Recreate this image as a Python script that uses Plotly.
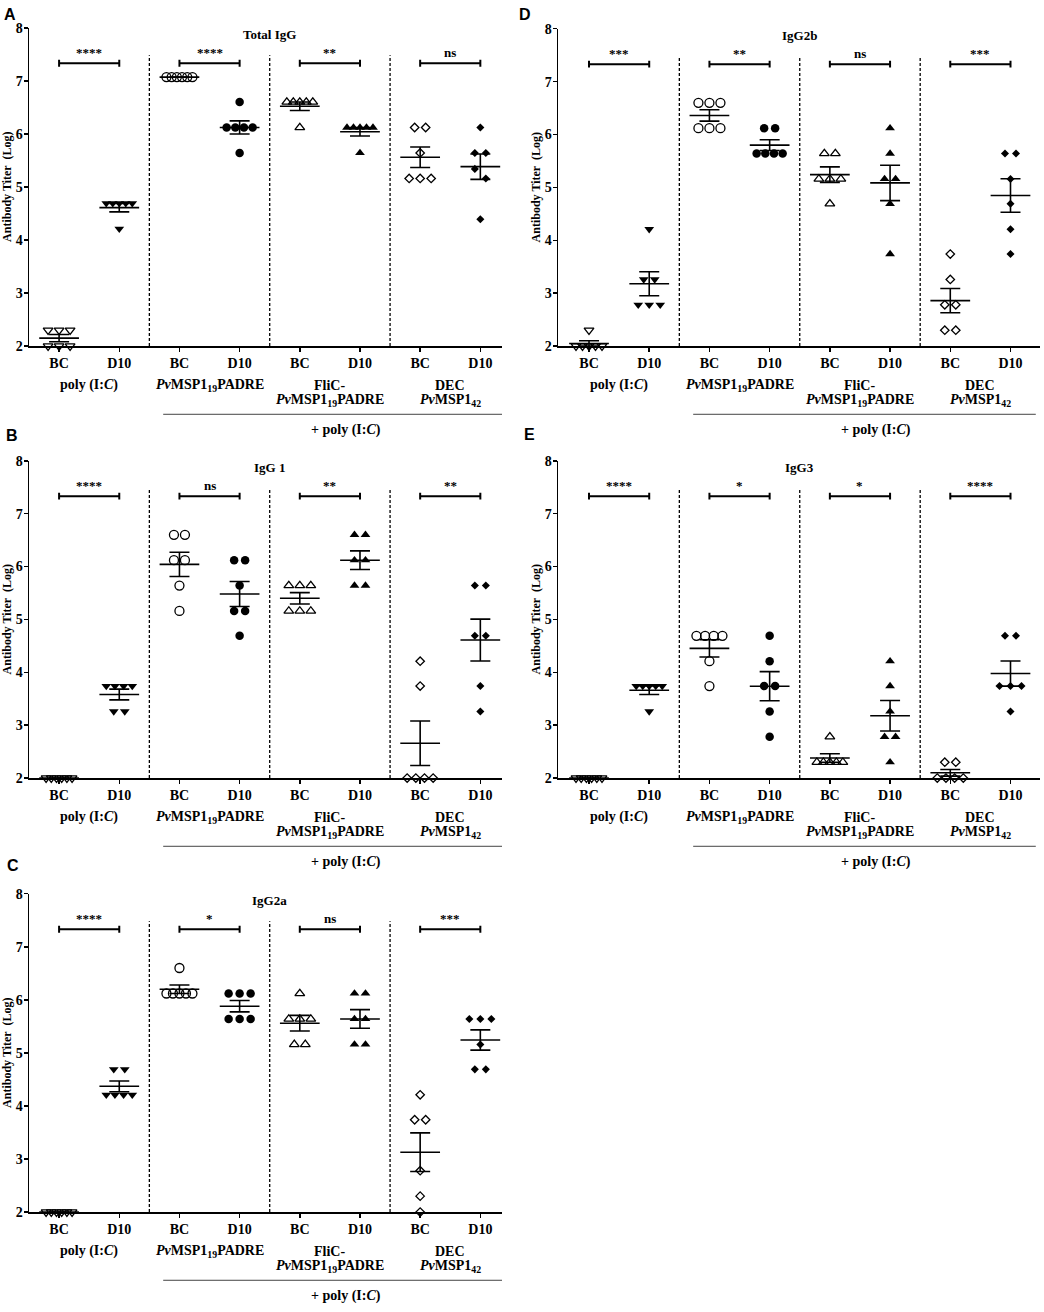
import numpy as np
import plotly.graph_objects as go

# ---------------- data ----------------
categories = ["BC", "D10", "BC", "D10", "BC", "D10", "BC", "D10"]
group_line1 = ["poly (I:<i>C</i>)", "<i>Pv</i>MSP1<sub>19</sub>PADRE", "FliC-", "DEC"]
group_line2 = ["", "", "<i>Pv</i>MSP1<sub>19</sub>PADRE", "<i>Pv</i>MSP1<sub>42</sub>"]
adjuvant_label = "+ poly (I:<i>C</i>)"
y_title = "Antibody Titer  (Log)"
y_ticks = [2, 3, 4, 5, 6, 7, 8]

panel_letters = ["A", "B", "C", "D", "E"]
panel_titles = ["Total IgG", "IgG 1", "IgG2a", "IgG2b", "IgG3"]

total_igg = [
    [2.30, 2.30, 2.30, 2.00, 2.00, 2.00],
    [4.69, 4.69, 4.69, 4.69, 4.69, 4.21],
    [7.07, 7.07, 7.07, 7.07, 7.07, 7.07],
    [6.60, 6.12, 6.12, 6.12, 6.12, 5.64],
    [6.60, 6.60, 6.60, 6.60, 6.60, 6.12],
    [6.12, 6.12, 6.12, 6.12, 6.12, 5.64],
    [6.12, 6.12, 5.64, 5.16, 5.16, 5.16],
    [6.12, 5.64, 5.64, 5.34, 5.16, 4.39],
]
igg1 = [
    [2.00, 2.00, 2.00, 2.00, 2.00, 2.00],
    [3.74, 3.74, 3.74, 3.74, 3.26, 3.26],
    [6.60, 6.60, 6.12, 6.12, 5.64, 5.16],
    [6.12, 6.12, 5.64, 5.16, 5.16, 4.69],
    [5.64, 5.64, 5.64, 5.16, 5.16, 5.16],
    [6.60, 6.60, 6.12, 6.12, 5.64, 5.64],
    [4.21, 3.74, 2.00, 2.00, 2.00, 2.00],
    [5.64, 5.64, 4.69, 4.69, 3.74, 3.26],
]
igg2a = [
    [2.00, 2.00, 2.00, 2.00, 2.00, 2.00],
    [4.69, 4.69, 4.21, 4.21, 4.21, 4.21],
    [6.60, 6.12, 6.12, 6.12, 6.12, 6.12],
    [6.12, 6.12, 6.12, 5.64, 5.64, 5.64],
    [6.12, 5.64, 5.64, 5.64, 5.16, 5.16],
    [6.12, 6.12, 5.64, 5.64, 5.16, 5.16],
    [4.21, 3.74, 3.74, 2.78, 2.30, 2.00],
    [5.64, 5.64, 5.64, 5.16, 4.69, 4.69],
]
igg2b = [
    [2.30, 2.00, 2.00, 2.00, 2.00, 2.00],
    [4.21, 3.26, 3.26, 2.78, 2.78, 2.78],
    [6.60, 6.60, 6.60, 6.12, 6.12, 6.12],
    [6.12, 6.12, 5.64, 5.64, 5.64, 5.64],
    [5.64, 5.64, 5.16, 5.16, 5.16, 4.69],
    [6.12, 5.64, 5.16, 5.16, 4.69, 3.74],
    [3.74, 3.26, 2.78, 2.78, 2.30, 2.30],
    [5.64, 5.64, 5.16, 4.69, 4.21, 3.74],
]
igg3 = [
    [2.00, 2.00, 2.00, 2.00, 2.00, 2.00],
    [3.74, 3.74, 3.74, 3.74, 3.74, 3.26],
    [4.69, 4.69, 4.69, 4.69, 4.21, 3.74],
    [4.69, 4.21, 3.74, 3.74, 3.26, 2.78],
    [2.78, 2.30, 2.30, 2.30, 2.30, 2.30],
    [4.21, 3.74, 3.26, 2.78, 2.78, 2.30],
    [2.30, 2.30, 2.00, 2.00, 2.00, 2.00],
    [4.69, 4.69, 3.74, 3.74, 3.74, 3.26],
]

sig_total_igg = ["****", "****", "**", "ns"]
sig_igg1 = ["****", "ns", "**", "**"]
sig_igg2a = ["****", "*", "ns", "***"]
sig_igg2b = ["***", "**", "ns", "***"]
sig_igg3 = ["****", "*", "*", "****"]

# ---------------- styling / layout ----------------
W, H = 1044, 1312
SERIF = "Liberation Serif"
SANS = "Liberation Sans"
PX_PER_UNIT = 60.2

symbols = ["triangle-down-open", "triangle-down", "circle-open", "circle",
           "triangle-up-open", "triangle-up", "diamond-open", "diamond"]
sizes = [8.5, 8.5, 9, 8.5, 8.5, 8.5, 6.5, 6.2]

def px_x(a, b):
    return [a / W, b / W]

def px_y(top, bottom):
    return [1 - bottom / H, 1 - top / H]

panels = [
    dict(vals=total_igg, sig=sig_total_igg, xd=px_x(29, 502), yd=px_y(21, 343),
         xr=[-0.5, 7.36], ytx=7, letter_xy=(10, 8)),
    dict(vals=igg1, sig=sig_igg1, xd=px_x(29, 502), yd=px_y(459, 780),
         xr=[-0.5, 7.36], ytx=7, letter_xy=(12, 433)),
    dict(vals=igg2a, sig=sig_igg2a, xd=px_x(29, 502), yd=px_y(897, 1219),
         xr=[-0.5, 7.36], ytx=7, letter_xy=(13, 868)),
    dict(vals=igg2b, sig=sig_igg2b, xd=px_x(558, 1040), yd=px_y(22, 343),
         xr=[-0.515, 7.49], ytx=536, letter_xy=(525, 8)),
    dict(vals=igg3, sig=sig_igg3, xd=px_x(558, 1040), yd=px_y(459, 780),
         xr=[-0.515, 7.49], ytx=536, letter_xy=(529, 432)),
]


def offsets(vals):
    """Spread points with (nearly) equal values horizontally, like a dot plot."""
    order = sorted(range(len(vals)), key=lambda k: -vals[k])
    rows = []
    for k in order:
        if rows and abs(vals[rows[-1][-1]] - vals[k]) < 0.2:
            rows[-1].append(k)
        else:
            rows.append([k])
    off = [0.0] * len(vals)
    for row in rows:
        n = len(row)
        if n == 1:
            continue
        sp = min(11.0, 26.0 / (n - 1))
        for j, k in enumerate(row):
            off[k] = (j - (n - 1) / 2) * sp / PX_PER_UNIT
    return off


fig = go.Figure()
annotations = []
shapes = []
layout_axes = {}

BRACKET_Y = 7.33
TICK_H = 0.065
SEP_TOP = 7.48
MEAN_HALF = 0.33

for p_i, p in enumerate(panels):
    sfx = "" if p_i == 0 else str(p_i + 1)
    xa, ya = "x" + sfx, "y" + sfx
    dom_h = (p["yd"][1] - p["yd"][0]) * H

    layout_axes["xaxis" + sfx] = dict(
        domain=p["xd"], range=p["xr"], anchor=ya,
        tickmode="array", tickvals=list(range(8)), ticktext=categories,
        showline=True, linecolor="black", linewidth=1.5,
        ticks="outside", ticklen=4, tickwidth=1.5, tickcolor="black",
        tickfont=dict(family=SERIF, size=14, color="black", weight="bold"),
        showgrid=False, zeroline=False, fixedrange=True,
    )
    layout_axes["yaxis" + sfx] = dict(
        domain=p["yd"], range=[2, 8], anchor=xa,
        tickmode="array", tickvals=y_ticks,
        showline=True, linecolor="black", linewidth=1.5,
        ticks="outside", ticklen=4, tickwidth=1.5, tickcolor="black",
        ticklabelstandoff=-2,
        tickfont=dict(family=SERIF, size=14, color="black", weight="bold"),
        showgrid=False, zeroline=False, fixedrange=True,
    )

    # dashed separators
    sx, sy = [], []
    for b in [1.5, 3.5, 5.5]:
        sx += [b, b, None]
        sy += [2, SEP_TOP, None]
    fig.add_trace(go.Scatter(x=sx, y=sy, mode="lines", xaxis=xa, yaxis=ya,
                             line=dict(color="black", width=1.3, dash="3px,2px"),
                             hoverinfo="skip", showlegend=False))

    # significance brackets
    bx, by = [], []
    for g in range(4):
        a, b = 2 * g, 2 * g + 1
        bx += [a, a, a, b, b, b, None]
        by += [BRACKET_Y - TICK_H, BRACKET_Y + TICK_H, BRACKET_Y, BRACKET_Y,
               BRACKET_Y + TICK_H, BRACKET_Y - TICK_H, None]
        annotations.append(dict(
            x=g * 2 + 0.5, y=BRACKET_Y, xref=xa, yref=ya, text=p["sig"][g],
            showarrow=False, yanchor="bottom", yshift=1,
            font=dict(family=SERIF, size=13, color="black", weight="bold")))
    fig.add_trace(go.Scatter(x=bx, y=by, mode="lines", xaxis=xa, yaxis=ya,
                             line=dict(color="black", width=2),
                             hoverinfo="skip", showlegend=False))

    # points
    means, sems = [], []
    for c in range(8):
        v = p["vals"][c]
        off = offsets(v)
        fig.add_trace(go.Scatter(
            x=[c + o for o in off], y=v, mode="markers", xaxis=xa, yaxis=ya,
            cliponaxis=False, showlegend=False, hoverinfo="skip",
            marker=dict(symbol=symbols[c], size=sizes[c], color="black",
                        line=dict(color="black", width=1.3 if "open" in symbols[c] else 0)),
        ))
        arr = np.array(v)
        means.append(float(arr.mean()))
        sems.append(float(arr.std(ddof=1) / np.sqrt(len(arr))))

    # mean lines
    mx, my = [], []
    for c in range(8):
        mx += [c - MEAN_HALF, c + MEAN_HALF, None]
        my += [means[c], means[c], None]
    fig.add_trace(go.Scatter(x=mx, y=my, mode="lines", xaxis=xa, yaxis=ya,
                             line=dict(color="black", width=1.6), cliponaxis=False,
                             hoverinfo="skip", showlegend=False))
    # SEM
    fig.add_trace(go.Scatter(
        x=list(range(8)), y=means, mode="markers", xaxis=xa, yaxis=ya,
        marker=dict(size=1, color="rgba(0,0,0,0)"), cliponaxis=False,
        error_y=dict(type="data", array=sems, symmetric=True, color="black",
                     thickness=1.6, width=10),
        hoverinfo="skip", showlegend=False))

    # title
    annotations.append(dict(
        x=3.5, y=7.87, xref=xa, yref=ya, text=panel_titles[p_i], showarrow=False,
        font=dict(family=SERIF, size=13, color="black", weight="bold")))

    # group labels
    for g in range(4):
        annotations.append(dict(
            x=g * 2 + 0.5, y=0, xref=xa, yref=ya + " domain", text=group_line1[g],
            showarrow=False, yanchor="middle", yshift=-39,
            font=dict(family=SERIF, size=14, color="black", weight="bold")))
        if group_line2[g]:
            annotations.append(dict(
                x=g * 2 + 0.5, y=0, xref=xa, yref=ya + " domain", text=group_line2[g],
                showarrow=False, yanchor="middle", yshift=-54,
                font=dict(family=SERIF, size=14, color="black", weight="bold")))
    shapes.append(dict(type="line", xref=xa, yref=ya + " domain",
                       x0=1.73, x1=7.42, y0=-69 / dom_h, y1=-69 / dom_h,
                       line=dict(color="#444444", width=1)))
    annotations.append(dict(
        x=4.77, y=0, xref=xa, yref=ya + " domain", text=adjuvant_label,
        showarrow=False, yanchor="middle", yshift=-84,
        font=dict(family=SERIF, size=14, color="black", weight="bold")))

    # y-axis title
    annotations.append(dict(
        x=p["ytx"] / W, y=0.5, xref="paper", yref=ya + " domain", text=y_title,
        showarrow=False, textangle=-90, xanchor="center", yanchor="middle",
        font=dict(family=SERIF, size=12, color="black", weight="bold")))

    # panel letter
    lx, ly = p["letter_xy"]
    annotations.append(dict(
        x=lx / W, y=1 - ly / H, xref="paper", yref="paper", text=panel_letters[p_i],
        showarrow=False, xanchor="center", yanchor="middle",
        font=dict(family=SANS, size=16, color="black", weight="bold")))

fig.update_layout(
    width=W, height=H, margin=dict(l=0, r=0, t=0, b=0),
    paper_bgcolor="white", plot_bgcolor="white",
    showlegend=False, annotations=annotations, shapes=shapes,
    hovermode=False,
    **layout_axes,
)

fig.write_html(
    "out.html",
    config={"displayModeBar": False, "staticPlot": True},
    post_script=(
        "document.documentElement.style.margin='0';"
        "document.body.style.margin='0';"
        "document.body.style.overflow='hidden';"
        "var gd=document.getElementById('{plot_id}');"
        "gd.style.position='fixed';gd.style.left='0px';gd.style.top='0px';"
    ),
)
